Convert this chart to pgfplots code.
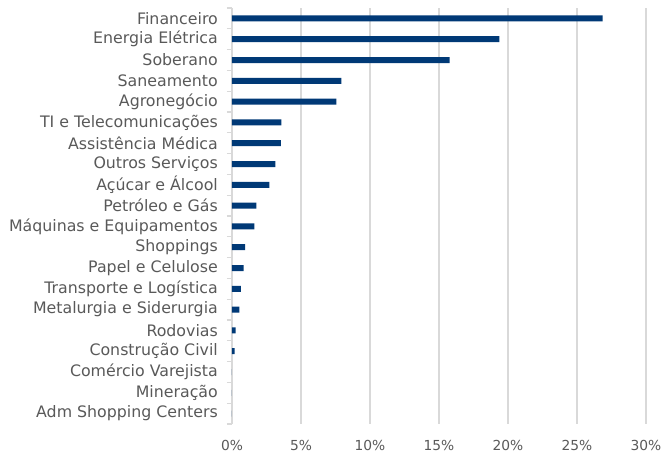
\documentclass[border=0pt]{standalone}
\usepackage{pgfplots}
\pgfplotsset{compat=1.18}
\usepackage{fontspec}
\setmainfont{DejaVu Sans}
\definecolor{barblue}{RGB}{0,57,118}
\definecolor{txtgray}{RGB}{89,89,89}
\definecolor{gridgray}{RGB}{217,217,217}
\begin{document}
\begin{tikzpicture}
\begin{axis}[
  at={(0,0)}, anchor=south west,
  scale only axis,
  width=414bp, height=416bp,
  xbar, bar width=6bp,
  xmin=0, xmax=30,
  ymin=-0.5, ymax=19.5,
  y dir=reverse,
  ytick={0,...,19},
  yticklabels={Financeiro,Energia Elétrica,Soberano,Saneamento,Agronegócio,TI e Telecomunicações,Assistência Médica,Outros Serviços,Açúcar e Álcool,Petróleo e Gás,Máquinas e Equipamentos,Shoppings,Papel e Celulose,Transporte e Logística,Metalurgia e Siderurgia,Rodovias,Construção Civil,Comércio Varejista,Mineração,Adm Shopping Centers},
  minor ytick={-0.5,0.5,...,19.5},
  xtick={0,5,...,30},
  xticklabels={0\%,5\%,10\%,15\%,20\%,25\%,30\%},
  major tick length=0pt,
  minor tick length=5bp,
  tick align=outside,
  minor tick style={gridgray, line width=1.2bp},
  xmajorgrids,
  major grid style={gridgray, line width=1.3bp},
  axis x line*=bottom,
  axis y line*=left,
  x axis line style={draw=none},
  y axis line style={gridgray, line width=1.3bp},
  tick label style={text=txtgray},
  yticklabel style={font=\fontsize{15.8bp}{17bp}\selectfont, inner sep=0pt, xshift=-14bp},
  xticklabel style={font=\fontsize{13.8bp}{15bp}\selectfont, inner sep=0pt, yshift=-16bp},
]
\addplot[draw=none, fill=barblue] coordinates {
(26.86,0) (19.37,1) (15.77,2) (7.92,3) (7.56,4) (3.57,5) (3.55,6) (3.14,7) (2.70,8) (1.76,9) (1.62,10) (0.96,11) (0.85,12) (0.65,13) (0.53,14) (0.27,15) (0.19,16) (0,17) (0,18) (0,19)
};
\end{axis}
\pgfresetboundingbox
\path (-232bp,-32bp) rectangle (429bp,424bp);
\end{tikzpicture}
\end{document}
